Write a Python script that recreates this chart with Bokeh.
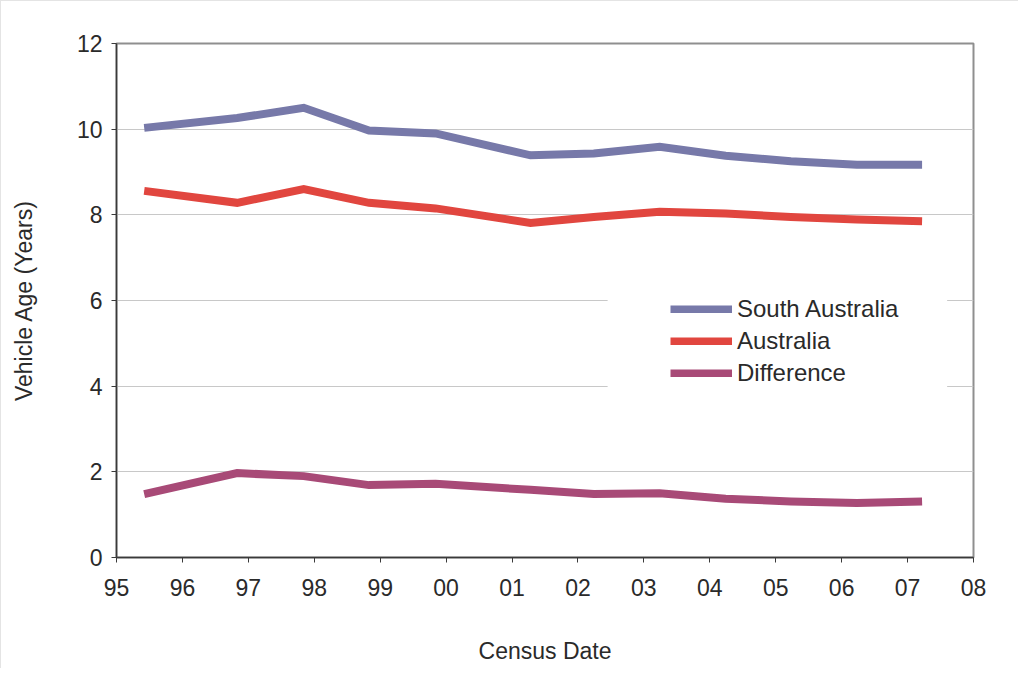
from bokeh.plotting import figure
from bokeh.models import FixedTicker, Legend, LegendItem, Range1d, BoxAnnotation
from bokeh.embed import file_html
from bokeh.resources import INLINE

# Census dates (year offsets, 95 = 1995, 100 = 2000)
census_dates = [95.42, 96.83, 97.84, 98.83, 99.84, 101.28, 102.24, 103.24, 104.24, 105.23, 106.23, 107.22]
south_australia = [10.03, 10.26, 10.50, 9.97, 9.90, 9.39, 9.43, 9.59, 9.38, 9.25, 9.17, 9.17]
australia = [8.56, 8.28, 8.60, 8.28, 8.15, 7.81, 7.95, 8.07, 8.03, 7.95, 7.89, 7.85]
difference = [1.48, 1.97, 1.90, 1.69, 1.72, 1.58, 1.48, 1.50, 1.37, 1.31, 1.27, 1.31]

x_ticks = list(range(95, 109))
x_tick_labels = ["95", "96", "97", "98", "99", "00", "01", "02", "03", "04", "05", "06", "07", "08"]
y_ticks = [0, 2, 4, 6, 8, 10, 12]

series_names = ["South Australia", "Australia", "Difference"]
series_colors = ["#7779A9", "#E1463F", "#A84A77"]

FONT = "Liberation Sans"
TXT = "#2a2a2a"

p = figure(width=1018, height=668, output_backend="svg", toolbar_location=None,
           x_range=Range1d(95, 108), y_range=Range1d(0, 12),
           min_border_left=115, min_border_top=42, min_border_right=46, min_border_bottom=112)

p.background_fill_color = "white"
p.border_fill_color = "white"
p.outline_line_color = "#8f8f8f"
p.outline_line_width = 2
p.styles = {"border-top": "1px solid #e4e4e4", "border-left": "1px solid #e4e4e4"}

# grid
p.xgrid.visible = False
p.ygrid.ticker = FixedTicker(ticks=y_ticks)
p.ygrid.grid_line_color = "#c8c8c8"
p.ygrid.grid_line_width = 1
p.ygrid.level = "underlay"

# axes
p.xaxis.ticker = FixedTicker(ticks=x_ticks)
p.xaxis.major_label_overrides = {t: l for t, l in zip(x_ticks, x_tick_labels)}
p.yaxis.ticker = FixedTicker(ticks=y_ticks)
for ax in (p.xaxis[0], p.yaxis[0]):
    ax.axis_line_color = "#3a3a3a"
    ax.axis_line_width = 1.5
    ax.major_tick_line_color = "#3a3a3a"
    ax.major_tick_in = 0
    ax.major_tick_out = 5
    ax.minor_tick_line_color = None
    ax.major_label_text_font = FONT
    ax.major_label_text_font_size = "23px"
    ax.major_label_text_color = TXT
    ax.axis_label_text_font = FONT
    ax.axis_label_text_font_size = "23px"
    ax.axis_label_text_font_style = "normal"
    ax.axis_label_text_color = TXT

p.xaxis.axis_label = "Census Date"
p.yaxis.axis_label = "Vehicle Age (Years)"
p.xaxis.major_label_standoff = 16
p.yaxis.major_label_standoff = 9
p.xaxis.axis_label_standoff = 39
p.yaxis.axis_label_standoff = 37

# white panel behind the legend (hides the gridlines there)
p.add_layout(BoxAnnotation(left=102.45, right=107.6, bottom=3.55, top=6.45,
                           fill_color="white", fill_alpha=1, line_color=None, level="underlay"))

renderers = []
for name, vals, col in zip(series_names, [south_australia, australia, difference], series_colors):
    r = p.line(census_dates, vals, line_color=col, line_width=8, line_cap="butt", line_join="miter")
    renderers.append(r)

legend = Legend(items=[LegendItem(label=n, renderers=[r]) for n, r in zip(series_names, renderers)],
                location=(554, 170))
legend.padding = 0
legend.margin = 0
legend.border_line_color = None
legend.background_fill_alpha = 0
legend.glyph_width = 62
legend.glyph_height = 8
legend.label_height = 28
legend.spacing = 4
legend.label_standoff = 5
legend.label_text_font = FONT
legend.label_text_font_size = "24px"
legend.label_text_color = TXT
p.add_layout(legend, "center")

open("out.html", "w").write(file_html(p, INLINE))
